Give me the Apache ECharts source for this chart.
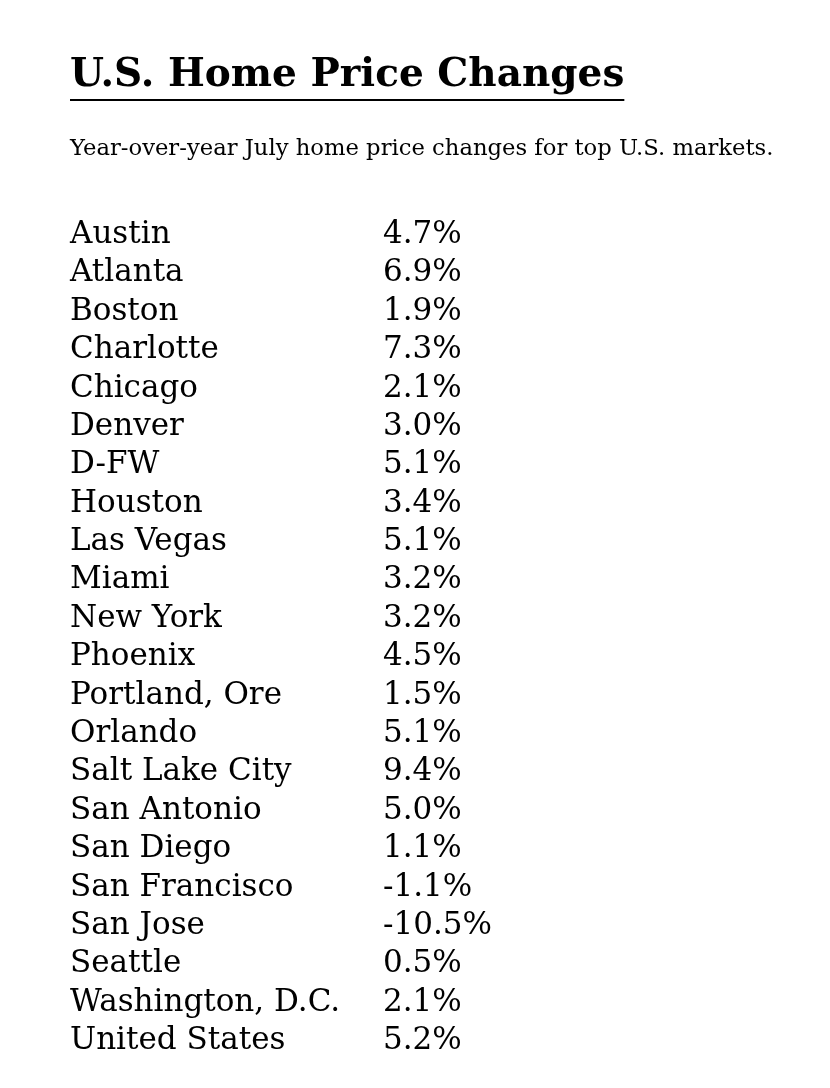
<!DOCTYPE html>
<html>
<head>
<meta charset="utf-8">
<script src="https://cdn.jsdelivr.net/npm/echarts@6/dist/echarts.min.js"></script>
<style>
  html, body { margin: 0; padding: 0; background: #fff; }
  #chart { width: 830px; height: 1088px; }
</style>
</head>
<body>
<div id="chart"></div>
<script>
const columns = ['Market', 'Change'];
const cities = [
  'Austin', 'Atlanta', 'Boston', 'Charlotte', 'Chicago', 'Denver', 'D-FW',
  'Houston', 'Las Vegas', 'Miami', 'New York', 'Phoenix', 'Portland, Ore',
  'Orlando', 'Salt Lake City', 'San Antonio', 'San Diego', 'San Francisco',
  'San Jose', 'Seattle', 'Washington, D.C.', 'United States'
];
const changes = [
  4.7, 6.9, 1.9, 7.3, 2.1, 3.0, 5.1, 3.4, 5.1, 3.2, 3.2, 4.5, 1.5,
  5.1, 9.4, 5.0, 1.1, -1.1, -10.5, 0.5, 2.1, 5.2
];

const FONT = '"DejaVu Serif", serif';
const titleText = 'U.S. Home Price Changes';
const titleSize = 39;

// measure title width for the underline
const ctx = document.createElement('canvas').getContext('2d');
ctx.font = 'bold ' + titleSize + 'px ' + FONT;
const titleWidth = ctx.measureText(titleText).width;

const chart = echarts.init(document.getElementById('chart'));

const cellLabel = {
  show: true,
  position: 'inside',
  align: 'left',
  verticalAlign: 'middle',
  color: '#000',
  opacity: 1,
  textBorderWidth: 0,
  fontFamily: FONT,
  fontSize: 31
};

chart.setOption({
  backgroundColor: '#fff',
  animation: false,
  title: [
    {
      text: titleText,
      left: 70,
      top: 56,
      padding: 0,
      textStyle: { fontFamily: FONT, fontSize: titleSize, fontWeight: 'bold', color: '#000' }
    },
    {
      text: 'Year-over-year July home price changes for top U.S. markets.',
      left: 70,
      top: 138,
      padding: 0,
      textStyle: { fontFamily: FONT, fontSize: 22.7, fontWeight: 'normal', color: '#000' }
    }
  ],
  graphic: [
    {
      type: 'line',
      shape: { x1: 70, y1: 100, x2: 70 + titleWidth, y2: 100 },
      style: { stroke: '#000', lineWidth: 2 }
    }
  ],
  grid: { left: 70, right: 447, top: 235, bottom: 47 },
  xAxis: {
    type: 'category',
    data: columns,
    boundaryGap: false,
    show: false
  },
  yAxis: {
    type: 'category',
    data: cities,
    inverse: true,
    boundaryGap: false,
    show: false
  },
  series: [
    {
      name: 'Market',
      type: 'scatter',
      symbolSize: 1,
      itemStyle: { color: 'rgba(0,0,0,0)' },
      data: cities.map(c => [columns[0], c]),
      label: Object.assign({}, cellLabel, { formatter: p => p.value[1] })
    },
    {
      name: 'Change',
      type: 'scatter',
      symbolSize: 1,
      itemStyle: { color: 'rgba(0,0,0,0)' },
      data: cities.map((c, i) => [columns[1], c, changes[i]]),
      label: Object.assign({}, cellLabel, { formatter: p => p.value[2].toFixed(1) + '%' })
    }
  ]
});
</script>
</body>
</html>
